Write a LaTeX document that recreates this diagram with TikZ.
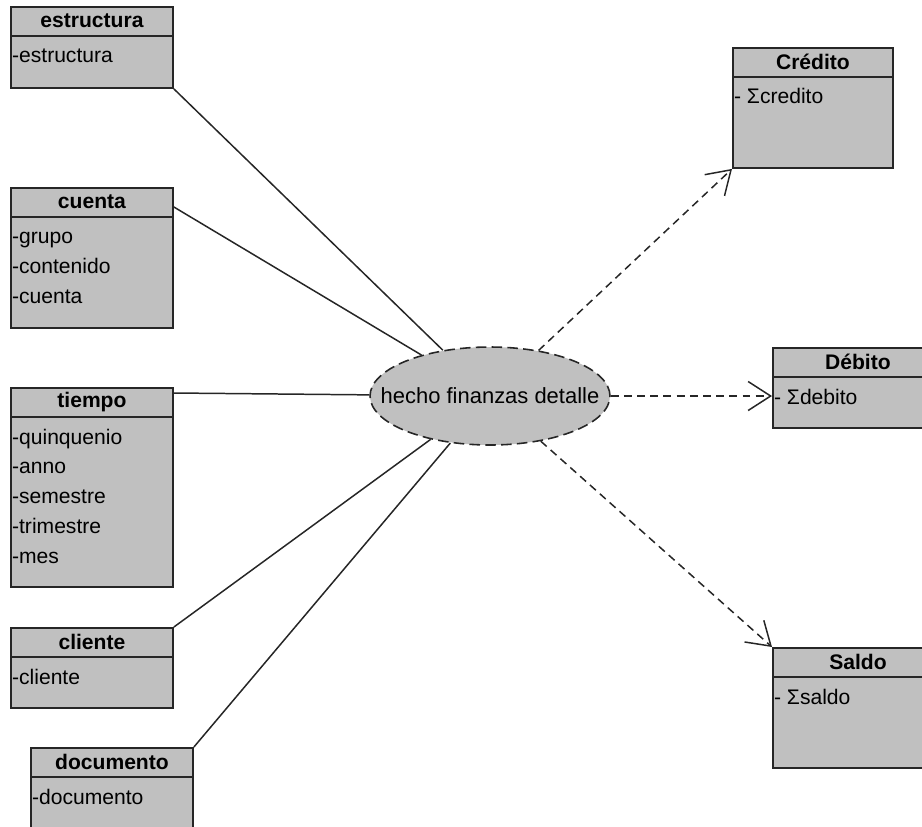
\documentclass[tikz,border=0pt]{standalone}
\usepackage{fontspec}
\setmainfont{Liberation Sans}
\usetikzlibrary{arrows.meta,shapes.geometric}
\definecolor{boxgray}{HTML}{C0C0C0}
\definecolor{linegray}{HTML}{262626}

\begin{document}
\begin{tikzpicture}[x=0.02cm, y=-0.02cm,
  box/.style={draw=linegray, line width=1.1pt, fill=boxgray, anchor=north west, inner sep=0pt, minimum width=3.24cm},
  head/.style={font=\bfseries\fontsize{12}{14}\selectfont, inner sep=0pt},
  attr/.style={font=\fontsize{12}{14}\selectfont, anchor=base west, inner sep=1pt},
  link/.style={line width=0.85pt, linegray},
  dep/.style={line width=0.85pt, linegray, dash pattern=on 4.5pt off 3pt, -{Straight Barb[length=4.5mm, width=5.8mm, line width=0.85pt]}}]

\useasboundingbox (0,0) rectangle (922,826);
\clip (0,0) rectangle (922,826);

\node[box, minimum height=1.62cm] (estructura) at (10,6) {};
\node[box, minimum height=2.8cm] (cuenta) at (10,187) {};
\node[box, minimum height=3.98cm] (tiempo) at (10,387) {};
\node[box, minimum height=1.6cm] (cliente) at (10,627) {};
\node[box, minimum height=2cm] (documento) at (30,747) {};
\node[box, minimum width=3.2cm, minimum height=2.4cm] (credito) at (732,47) {};
\node[box, minimum width=3.4cm, minimum height=1.6cm] (debito) at (772,347) {};
\node[box, minimum width=3.4cm, minimum height=2.4cm] (saldo) at (772,647) {};

\node[ellipse, draw=linegray, line width=0.9pt, dash pattern=on 6pt off 3pt, fill=boxgray,
  minimum width=4.8cm, minimum height=1.96cm, inner sep=0pt, font=\fontsize{12.5}{14}\selectfont]
  (hecho) at (490,396) {\makebox[0pt]{hecho finanzas detalle}};

\foreach \b in {estructura,cuenta,tiempo,cliente,documento,credito,debito,saldo} {
 \draw[line width=1.1pt, linegray] ([yshift=-0.6cm]\b.north west) -- ([yshift=-0.6cm]\b.north east);
}

\node[head] (estructuraT) at ([yshift=-0.3cm]estructura.north) {estructura};
\node[head] (cuentaT) at ([yshift=-0.3cm]cuenta.north) {cuenta};
\node[head] (tiempoT) at ([yshift=-0.3cm]tiempo.north) {tiempo};
\node[head] (clienteT) at ([yshift=-0.3cm]cliente.north) {cliente};
\node[head] (documentoT) at ([yshift=-0.3cm]documento.north) {documento};
\node[head] (creditoT) at ([yshift=-0.3cm]credito.north) {Crédito};
\node[head] (debitoT) at ([yshift=-0.3cm]debito.north) {Débito};
\node[head] (saldoT) at ([yshift=-0.3cm]saldo.north) {Saldo};

\node[attr] (estructura1) at ([yshift=-1.14cm]estructura.north west) {-estructura};
\foreach \a [count=\i] in {-grupo,-contenido,-cuenta} {
 \node[attr] (cuenta\i) at ([yshift=-0.54cm-\i*0.6cm]cuenta.north west) {\a};
}
\foreach \a [count=\i] in {-quinquenio,-anno,-semestre,-trimestre,-mes} {
 \node[attr] (tiempo\i) at ([yshift=-0.54cm-\i*0.6cm]tiempo.north west) {\a};
}
\node[attr] (cliente1) at ([yshift=-1.14cm]cliente.north west) {-cliente};
\node[attr] (documento1) at ([yshift=-1.14cm]documento.north west) {-documento};
\node[attr] (credito1) at ([yshift=-1.14cm]credito.north west) {- Σcredito};
\node[attr] (debito1) at ([yshift=-1.14cm]debito.north west) {- Σdebito};
\node[attr] (saldo1) at ([yshift=-1.14cm]saldo.north west) {- Σsaldo};

\draw[link] (estructura.south east) -- (hecho);
\draw[link] ([yshift=-0.4cm]cuenta.north east) -- (hecho);
\draw[link] ([yshift=-0.12cm]tiempo.north east) -- (hecho);
\draw[link] (cliente.north east) -- (hecho);
\draw[link] (documento.north east) -- (hecho);

\draw[dep] (hecho) -- (credito.south west);
\draw[dep] (hecho.east) -- (debito.west |- hecho.east);
\draw[dep] (hecho) -- (saldo.north west);
\end{tikzpicture}
\end{document}
